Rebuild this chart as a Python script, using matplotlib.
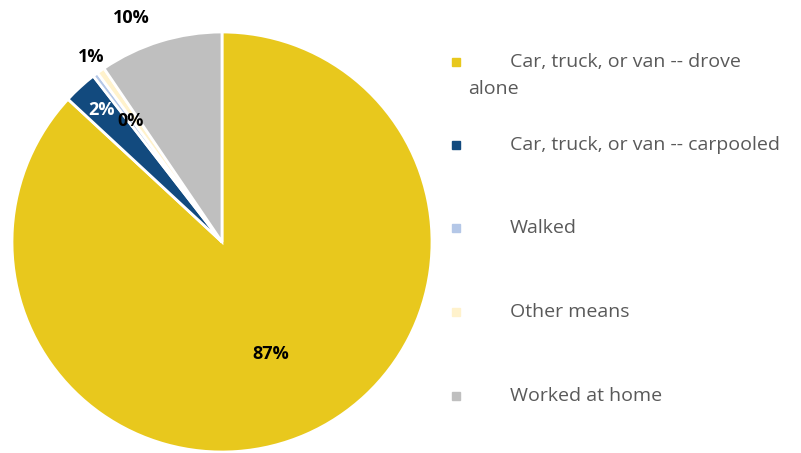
import numpy as np
import matplotlib.pyplot as plt
from matplotlib.patches import Rectangle

# Means of transportation to work
categories = ['Car, truck, or van -- drove alone', 'Car, truck, or van -- carpooled',
              'Walked', 'Other means', 'Worked at home']
shares = [86.9, 2.6, 0.4, 0.6, 9.5]
pct_labels = ['87%', '2%', '0%', '1%', '10%']
colors = ['#E8C81D', '#124A7E', '#B4C7E7', '#FFF2CC', '#BFBFBF']
label_colors = ['black', 'white', 'black', 'black', 'black']
label_radius = [0.58, 0.85, 0.72, 1.08, 1.15]
label_shift = [0, 0, 0, 0, 5]  # degrees

fig = plt.figure(figsize=(8.01, 4.53), dpi=100)
ax = fig.add_axes([12 / 801, 1 / 453, 420 / 801, 420 / 453])

wedges, _ = ax.pie(shares, colors=colors, startangle=90, counterclock=False,
                   radius=1, wedgeprops=dict(edgecolor='white', linewidth=2))
ax.set_xlim(-1, 1)
ax.set_ylim(-1, 1)
ax.set_aspect('equal')

# percentage labels
for w, txt, c, r, s in zip(wedges, pct_labels, label_colors, label_radius, label_shift):
    ang = np.deg2rad((w.theta1 + w.theta2) / 2 + s)
    ax.text(r * np.cos(ang), r * np.sin(ang), txt, ha='center', va='center',
            fontsize=13, fontweight='bold', color=c, family='Open Sans',
            clip_on=False)

# legend drawn by hand
leg_y = [62, 145, 228, 312, 396]
names = ['Car, truck, or van -- drove\nalone', categories[1], categories[2],
         categories[3], categories[4]]
for y, name, c in zip(leg_y, names, colors):
    fig.patches.append(Rectangle((452 / 801, 1 - (y + 4) / 453), 8 / 801, 8 / 453,
                                 transform=fig.transFigure, color=c))
    if '\n' in name:
        first, second = name.split('\n')
        fig.text(510 / 801, 1 - y / 453, first, ha='left', va='center',
                 fontsize=14, color='#595959', family='Open Sans')
        fig.text(468 / 801, 1 - (y + 27) / 453, second, ha='left', va='center',
                 fontsize=14, color='#595959', family='Open Sans')
    else:
        fig.text(510 / 801, 1 - y / 453, name, ha='left', va='center',
                 fontsize=14, color='#595959', family='Open Sans')

fig.savefig('out.png', dpi=100)
